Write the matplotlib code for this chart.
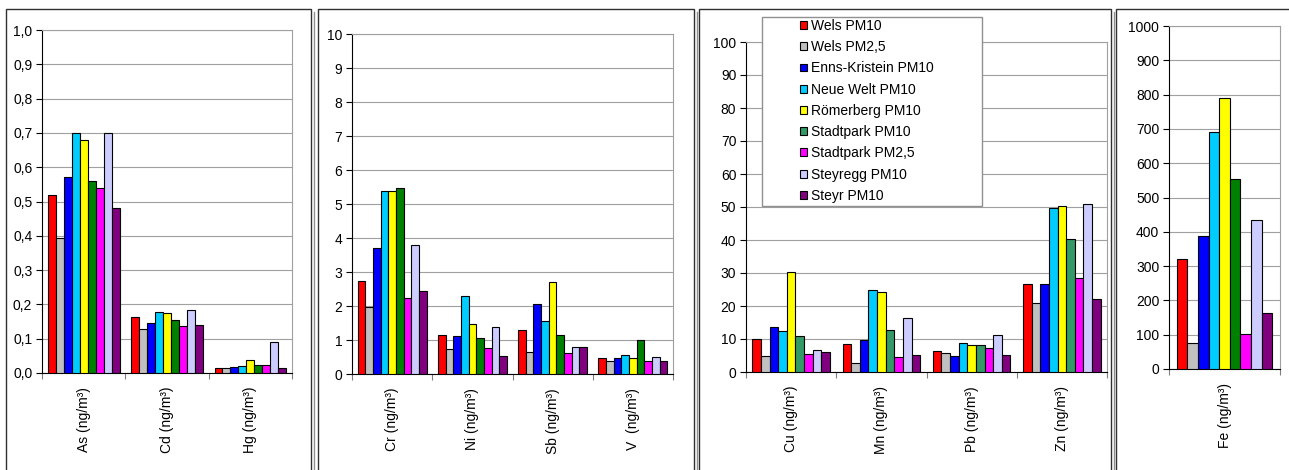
import matplotlib
matplotlib.use('Agg')
import matplotlib.pyplot as plt
import numpy as np
from matplotlib.patches import Rectangle, Patch
from matplotlib.ticker import FuncFormatter

plt.rcParams['font.family'] = ['Liberation Sans', 'DejaVu Sans']
plt.rcParams['font.size'] = 10

W, H = 1289, 470

stations = ['Wels PM10', 'Wels PM2,5', 'Enns-Kristein PM10', 'Neue Welt PM10',
            'Römerberg PM10', 'Stadtpark PM10', 'Stadtpark PM2,5',
            'Steyregg PM10', 'Steyr PM10']
colors = ['#FF0000', '#C0C0C0', '#0000FF', '#00CCFF', '#FFFF00',
          '#008000', '#FF00FF', '#CCCCFF', '#800080']
colors_p3 = colors[:5] + ['#339966'] + colors[6:]

# panel 1
cats1 = ['As (ng/m³)', 'Cd (ng/m³)', 'Hg (ng/m³)']
as_vals = [0.52, 0.395, 0.57, 0.70, 0.68, 0.56, 0.54, 0.70, 0.48]
cd_vals = [0.163, 0.128, 0.145, 0.177, 0.175, 0.155, 0.136, 0.183, 0.14]
hg_vals = [0.016, 0.014, 0.018, 0.02, 0.037, 0.024, 0.022, 0.09, 0.015]

# panel 2
cats2 = ['Cr (ng/m³)', 'Ni (ng/m³)', 'Sb (ng/m³)', 'V  (ng/m³)']
cr_vals = [2.75, 1.97, 3.7, 5.38, 5.38, 5.47, 2.23, 3.78, 2.45]
ni_vals = [1.15, 0.75, 1.13, 2.3, 1.47, 1.05, 0.77, 1.38, 0.53]
sb_vals = [1.28, 0.65, 2.07, 1.55, 2.7, 1.15, 0.62, 0.79, 0.79]
v_vals = [0.48, 0.38, 0.47, 0.55, 0.47, 1.0, 0.38, 0.5, 0.38]

# panel 3
cats3 = ['Cu (ng/m³)', 'Mn (ng/m³)', 'Pb (ng/m³)', 'Zn (ng/m³)']
cu_vals = [10.1, 4.9, 13.6, 12.5, 30.2, 10.8, 5.4, 6.6, 6.2]
mn_vals = [8.6, 2.7, 9.7, 24.7, 24.1, 12.7, 4.5, 16.3, 5.1]
pb_vals = [6.3, 5.8, 4.8, 8.7, 8.3, 8.3, 7.2, 11.1, 5.3]
zn_vals = [26.6, 20.8, 26.6, 49.8, 50.4, 40.2, 28.6, 50.9, 22.0]

# panel 4
cats4 = ['Fe (ng/m³)']
fe_vals = [322, 77, 388, 690, 790, 553, 103, 433, 162]

fig = plt.figure(figsize=(W / 100, H / 100), dpi=100)


def px_axes(l, r, t, b):
    return fig.add_axes([l / W, 1 - b / H, (r - l) / W, (b - t) / H])


def frame(l, r):
    fig.patches.append(Rectangle((l / W, -0.1), (r - l) / W, 1.1 - 9 / H,
                                 transform=fig.transFigure, fill=False,
                                 edgecolor='#303030', lw=1.0, zorder=0))
    fig.lines.append(plt.Line2D([(r + 3) / W] * 2, [-0.1, 1 - 12 / H],
                                transform=fig.transFigure, color='#909090',
                                lw=1.0))


def panel(ax, cats, series, cols, ymax, step, fmt=None):
    n = len(series[0])
    group = 0.86
    bw = group / n
    x = np.arange(len(cats))
    for i in range(n):
        vals = [s[i] for s in series]
        ax.bar(x - group / 2 + bw * (i + 0.5), vals, width=bw, color=cols[i],
               edgecolor='black', linewidth=0.8, zorder=3)
    ax.set_xlim(-0.5, len(cats) - 0.5)
    ax.set_ylim(0, ymax)
    ax.set_yticks(np.arange(0, ymax + step / 2, step))
    if fmt:
        ax.yaxis.set_major_formatter(FuncFormatter(fmt))
    ax.yaxis.grid(True, color='#A0A0A0', lw=0.8, zorder=0)
    ax.set_axisbelow(True)
    ax.set_xticks(np.arange(len(cats) + 1) - 0.5, minor=False)
    ax.set_xticklabels([])
    ax.set_xticks(x, minor=True)
    ax.set_xticklabels(cats, minor=True, rotation=90)
    ax.tick_params(axis='x', which='minor', length=0, pad=10)
    ax.tick_params(axis='x', which='major', length=4, color='#808080')
    ax.tick_params(axis='y', length=4, pad=3)
    for side in ('top', 'right'):
        ax.spines[side].set_color('#A0A0A0')
    ax.spines['left'].set_color('black')
    ax.spines['bottom'].set_color('black')


frame(6, 311)
frame(318, 694)
frame(699, 1111)
frame(1116, 1290)

ax1 = px_axes(42, 292, 30, 373)
panel(ax1, cats1, [as_vals, cd_vals, hg_vals], colors, 1.0, 0.1,
      fmt=lambda v, p: f'{v:.1f}'.replace('.', ','))

ax2 = px_axes(352, 673, 34, 374)
panel(ax2, cats2, [cr_vals, ni_vals, sb_vals, v_vals], colors, 10, 1)

ax3 = px_axes(746, 1107, 42, 372)
panel(ax3, cats3, [cu_vals, mn_vals, pb_vals, zn_vals], colors_p3, 100, 10)

ax4 = px_axes(1169, 1280, 26, 369)
panel(ax4, cats4, [fe_vals], colors, 1000, 100)

# legend box
fig.patches.append(Rectangle((762 / W, 1 - 206 / H), 220 / W, 189 / H,
                             transform=fig.transFigure, facecolor='white',
                             edgecolor='#909090', lw=1.0, zorder=4))
handles = [Patch(facecolor=c, edgecolor='black', lw=0.8) for c in colors_p3]
fig.legend(handles, stations, loc='upper left',
           bbox_to_anchor=(800 / W, 1 - 19 / H), frameon=False,
           handlelength=0.5, handleheight=0.5, handletextpad=0.3,
           labelspacing=0.52, borderaxespad=0, borderpad=0.0,
           fontsize=10)

fig.savefig('out.png', dpi=100, facecolor='white')
